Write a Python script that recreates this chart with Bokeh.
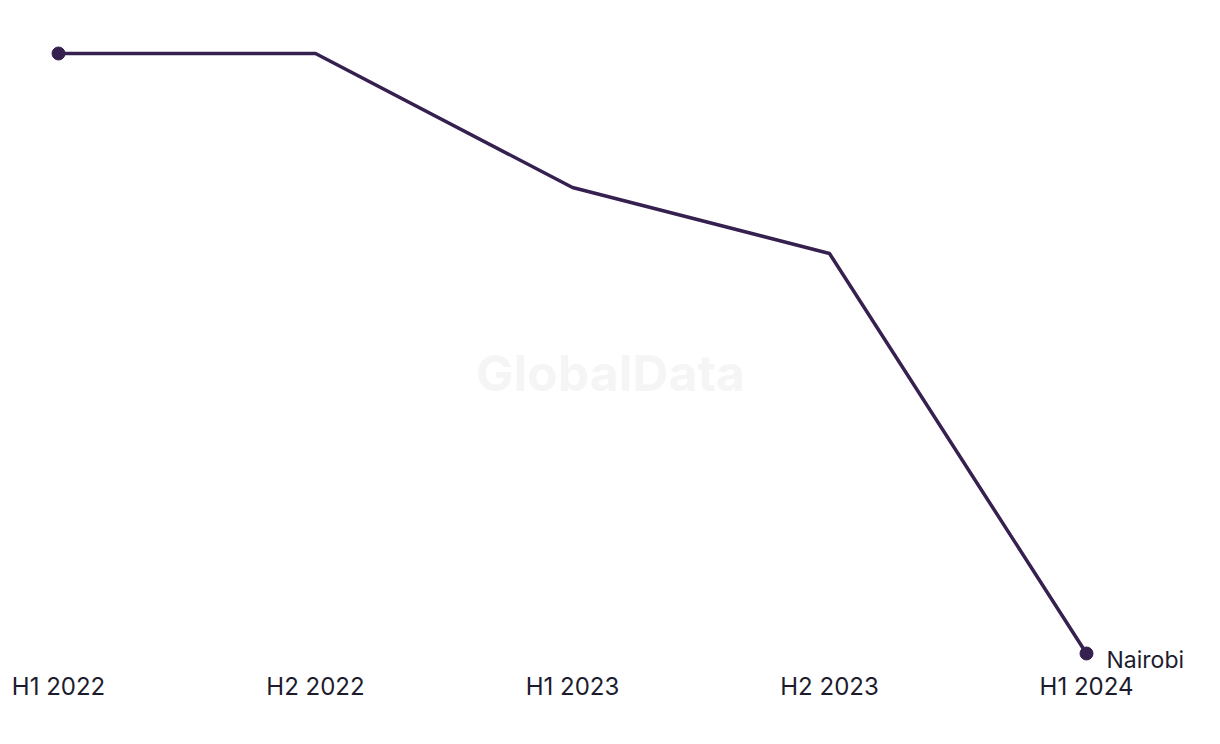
from bokeh.plotting import figure
from bokeh.models import Range1d, Label, FixedTicker
from bokeh.embed import file_html
from bokeh.resources import INLINE

periods = ["H1 2022", "H2 2022", "H1 2023", "H2 2023", "H1 2024"]
values = [30.0, 30.0, 23.3, 20.0, 0.0]
series_name = "Nairobi"

xs = list(range(len(periods)))

p = figure(width=1220, height=744, output_backend="svg", toolbar_location=None,
           x_range=Range1d(-0.2257, 4.5214), y_range=Range1d(-2.55, 32.65),
           min_border_left=0, min_border_right=0, min_border_top=0, min_border_bottom=40)
p.outline_line_color = None
p.grid.visible = False
p.yaxis.visible = False
p.background_fill_color = "white"
p.border_fill_color = "white"

wm = Label(x=2.148, y=14.05, text="GlobalData",
           text_font="Inter", text_font_style="bold", text_font_size="50px",
           text_color="#f5f5f5", text_align="center", text_baseline="middle")
p.add_layout(wm)

color = "#35204f"
p.line(xs, values, line_color=color, line_width=3.5)
p.scatter([xs[0], xs[-1]], [values[0], values[-1]], size=13, color=color)

name_label = Label(x=xs[-1], y=values[-1], x_offset=20, y_offset=-6, text=series_name,
                   text_font="Inter", text_font_size="23px", text_color="#1c1c2e",
                   text_align="left", text_baseline="middle")
p.add_layout(name_label)

ax = p.xaxis[0]
ax.ticker = FixedTicker(ticks=xs)
ax.major_label_overrides = {i: s for i, s in enumerate(periods)}
ax.axis_line_color = None
ax.major_tick_line_color = None
ax.minor_tick_line_color = None
ax.major_label_text_font = "Inter"
ax.major_label_text_font_size = "24px"
ax.major_label_text_color = "#1c1c2e"
ax.major_label_standoff = -39

open("out.html", "w").write(file_html(p, INLINE))
